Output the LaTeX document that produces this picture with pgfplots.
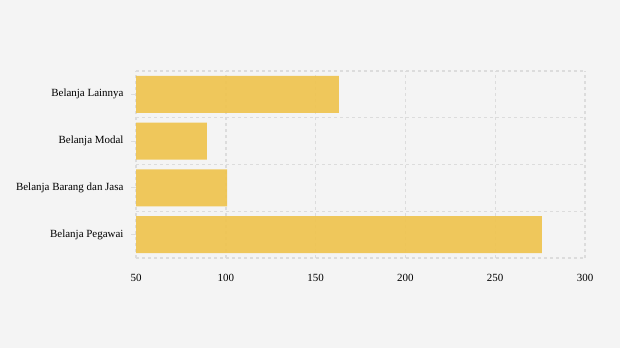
\documentclass[border=0pt]{standalone}
\usepackage{pgfplots}
\pgfplotsset{compat=1.18}
\usepackage{fontspec}
\setmainfont{Liberation Serif}
\definecolor{bg}{RGB}{244,244,244}
\definecolor{barc}{RGB}{239,196,78}
\definecolor{gridc}{RGB}{220,220,220}
\begin{document}
\begin{tikzpicture}[x=1bp,y=1bp]
\fill[bg] (0,0) rectangle (620,348);
\useasboundingbox (0,0) rectangle (620,348);
\begin{axis}[
  at={(136bp,90bp)}, anchor=south west,
  scale only axis, width=449bp, height=187bp,
  xbar, bar width=0.79,
  xmin=50, xmax=300, ymin=-0.5, ymax=3.5,
  xtick={50,100,150,200,250,300},
  ytick={0,1,2,3},
  yticklabels={Belanja Pegawai,Belanja Barang dan Jasa,Belanja Modal,Belanja Lainnya},
  minor ytick={-0.5,0.5,1.5,2.5,3.5},
  xmajorgrids, yminorgrids,
  grid style={gridc, line width=1.4bp, dash pattern=on 3bp off 3bp},
  minor grid style={gridc, line width=1.4bp, dash pattern=on 3bp off 3bp},
  axis line style={draw=none},
  x tick style={draw=none},
  y tick style={gridc, line width=1bp},
  minor y tick style={draw=none},
  major tick length=5bp,
  tick align=outside,
  xtick pos=bottom, ytick pos=left,
  tick label style={font=\fontsize{11}{13}\selectfont, text=black},
  xticklabel style={yshift=-8bp},
  yticklabel style={xshift=-4bp},
  /pgf/number format/assume math mode=true,
]
\addplot[fill=barc, draw=none, fill opacity=0.92] coordinates {
  (276,0) (100.7,1) (89.5,2) (163,3)
};
\end{axis}
\end{tikzpicture}
\end{document}
